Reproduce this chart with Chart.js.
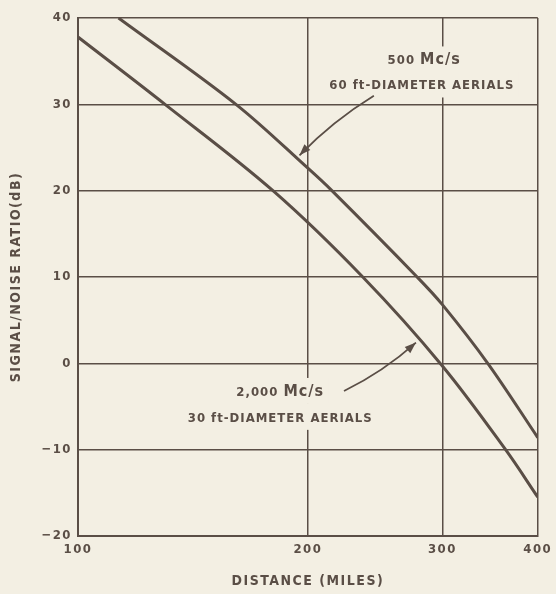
<!DOCTYPE html>
<html>
<head>
<meta charset="utf-8">
<script src="https://cdn.jsdelivr.net/npm/chart.js@4"></script>
<style>
  html, body { margin: 0; padding: 0; background: #f3efe3; }
  canvas { display: block; }
</style>
</head>
<body>
<canvas id="chart" width="556" height="594"></canvas>
<script>
// Distance (miles), log axis
const xTicks = [100, 200, 300, 400];
const yTicks = [-20, -10, 0, 10, 20, 30, 40];

// 500 Mc/s, 60 ft aerials
const upperDist = [113, 161, 200, 215, 278, 300, 344, 400];
const upperSnr  = [40, 30, 22.6, 20, 10, 6.8, 0, -8.6];

// 2,000 Mc/s, 30 ft aerials
const lowerDist = [100, 130, 180, 236, 300, 363, 400];
const lowerSnr  = [37.8, 30, 20, 10, -0.3, -10, -15.5];

// annotation text, placed in data units; each line = [small part, large part]
const notes = [
  { lines: [['500 ', 'Mc/s'], ['60 ft-DIAMETER AERIALS', '']], x: [284, 282], y: [35.2, 32.3] },
  { lines: [['2,000 ', 'Mc/s'], ['30 ft-DIAMETER AERIALS', '']], x: [184, 184], y: [-3.2, -6.2] }
];
// arrows: from [x, y] to [x, y]
const arrows = [
  { from: [244, 31], to: [195, 24.1] },
  { from: [223, -3.2], to: [277, 2.4] }
];

const ink = '#5a4e46';
const paper = '#f3efe3';
const fontFam = '"DejaVu Sans Condensed", "DejaVu Sans", sans-serif';

const pts = (xs, ys) => xs.map((x, i) => ({ x: x, y: ys[i] }));

const paperPlugin = {
  id: 'paper',
  beforeDraw(chart) {
    const c = chart.ctx;
    c.save();
    c.fillStyle = paper;
    c.fillRect(0, 0, chart.width, chart.height);
    c.restore();
    c.letterSpacing = '1.5px';
  }
};

const notesPlugin = {
  id: 'notes',
  beforeDatasetsDraw(chart) {
    const c = chart.ctx;
    const sx = chart.scales.x, sy = chart.scales.y;
    c.save();
    c.textAlign = 'left';
    c.textBaseline = 'alphabetic';
    c.letterSpacing = '1px';
    notes.forEach(n => {
      n.lines.forEach((parts, i) => {
        const px = sx.getPixelForValue(n.x[i]);
        const py = sy.getPixelForValue(n.y[i]);
        const fSmall = 'bold 13px ' + fontFam;
        const fBig = 'bold 16px ' + fontFam;
        c.font = fSmall;
        const w1 = c.measureText(parts[0]).width;
        c.font = fBig;
        const w2 = parts[1] ? c.measureText(parts[1]).width : 0;
        const w = w1 + w2;
        c.fillStyle = paper;
        c.fillRect(px - w / 2 - 4, py - 13, w + 8, 26);
        c.fillStyle = ink;
        c.font = fSmall;
        c.fillText(parts[0], px - w / 2, py + 5);
        if (parts[1]) {
          c.font = fBig;
          c.fillText(parts[1], px - w / 2 + w1, py + 5);
        }
      });
    });
    c.restore();
  },
  afterDatasetsDraw(chart) {
    const c = chart.ctx;
    const sx = chart.scales.x, sy = chart.scales.y;
    c.save();
    c.strokeStyle = ink;
    c.fillStyle = ink;
    c.lineWidth = 1.8;
    arrows.forEach(a => {
      const x0 = sx.getPixelForValue(a.from[0]), y0 = sy.getPixelForValue(a.from[1]);
      const x1 = sx.getPixelForValue(a.to[0]), y1 = sy.getPixelForValue(a.to[1]);
      const mx = (x0 + x1) / 2, my = (y0 + y1) / 2;
      const dx = x1 - x0, dy = y1 - y0;
      const len = Math.hypot(dx, dy);
      // slight bow
      const cx = mx - dy / len * 6, cy = my + dx / len * 6;
      c.beginPath();
      c.moveTo(x0, y0);
      c.quadraticCurveTo(cx, cy, x1, y1);
      c.stroke();
      const ang = Math.atan2(y1 - cy, x1 - cx);
      c.beginPath();
      c.moveTo(x1, y1);
      c.lineTo(x1 - 12 * Math.cos(ang - 0.35), y1 - 12 * Math.sin(ang - 0.35));
      c.lineTo(x1 - 12 * Math.cos(ang + 0.35), y1 - 12 * Math.sin(ang + 0.35));
      c.closePath();
      c.fill();
    });
    c.restore();
  }
};

const tickFont = { family: fontFam, size: 13, weight: 'bold' };
const titleFont = { family: fontFam, size: 14, weight: 'bold' };

new Chart(document.getElementById('chart').getContext('2d'), {
  type: 'line',
  data: {
    datasets: [
      {
        label: '500 Mc/s 60 ft-diameter aerials',
        data: pts(upperDist, upperSnr),
        borderColor: ink,
        borderWidth: 3,
        pointRadius: 0,
        tension: 0.35,
        fill: false
      },
      {
        label: '2,000 Mc/s 30 ft-diameter aerials',
        data: pts(lowerDist, lowerSnr),
        borderColor: ink,
        borderWidth: 3,
        pointRadius: 0,
        tension: 0.35,
        fill: false
      }
    ]
  },
  options: {
    responsive: false,
    animation: false,
    layout: { padding: { top: 18, right: 15, left: 0, bottom: 0 } },
    plugins: {
      legend: { display: false },
      tooltip: { enabled: false }
    },
    scales: {
      x: {
        type: 'logarithmic',
        min: 100,
        max: 400,
        afterBuildTicks: s => { s.ticks = xTicks.map(v => ({ value: v })); },
        afterFit: s => { s.height = 58; },
        ticks: {
          autoSkip: false,
          maxRotation: 0,
          padding: 6,
          color: ink,
          font: tickFont,
          callback: v => String(v)
        },
        grid: { color: ink, lineWidth: 1.5, drawTicks: false },
        border: { display: true, color: ink, width: 2 },
        title: {
          display: true,
          text: 'DISTANCE (MILES)',
          color: ink,
          font: titleFont,
          padding: { top: 0, bottom: 4 }
        }
      },
      y: {
        min: -20,
        max: 40,
        afterBuildTicks: s => { s.ticks = yTicks.map(v => ({ value: v })); },
        afterFit: s => { s.width = 78; },
        ticks: {
          padding: 6,
          color: ink,
          font: tickFont,
          callback: v => (v < 0 ? '\u2212' + Math.abs(v) : String(v))
        },
        grid: { color: ink, lineWidth: 1.5, drawTicks: false },
        border: { display: true, color: ink, width: 2 },
        title: {
          display: true,
          text: 'SIGNAL/NOISE RATIO(dB)',
          color: ink,
          font: titleFont,
          padding: { top: 8, bottom: 0 }
        }
      }
    }
  },
  plugins: [paperPlugin, notesPlugin]
});
</script>
</body>
</html>
